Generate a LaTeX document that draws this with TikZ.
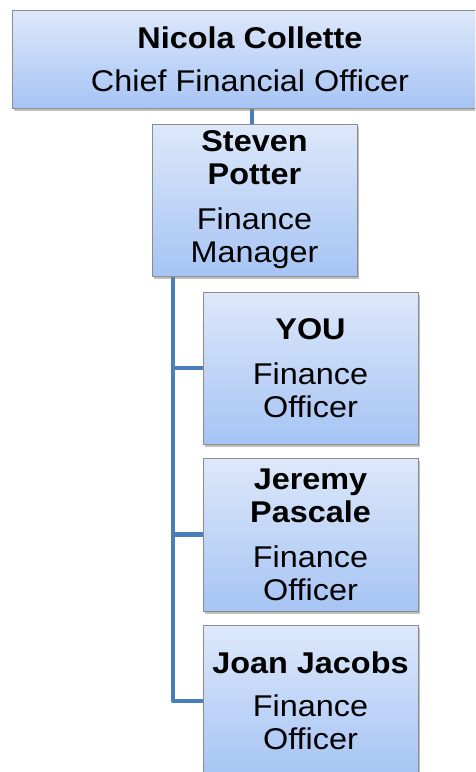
\documentclass[tikz,border=0pt]{standalone}
\usepackage{fontspec}
\setmainfont{Liberation Sans}[FakeStretch=1.08]
\usetikzlibrary{shadows,backgrounds}

\definecolor{linkblue}{HTML}{4A7EBB}
\definecolor{boxtop}{HTML}{DDE8FA}
\definecolor{boxbot}{HTML}{A6C4F4}

\begin{document}
\begin{tikzpicture}[x=1pt,y=1pt,
	person/.style={draw=gray!90,line width=1pt,top color=boxtop,bottom color=boxbot,
		drop shadow={opacity=.5,shadow xshift=1.5pt,shadow yshift=-3pt},
		align=center,inner sep=2pt,font=\fontsize{30}{33}\selectfont},
	link/.style={draw=linkblue,line width=4.5pt}]
	\useasboundingbox (0,0) rectangle (475,-772);
	\clip (0,0) rectangle (475,-772);
	
	% boxes, top to bottom
	\node[person,minimum width=476,minimum height=98] (cfo) at (250,-59)
		{\textbf{Nicola Collette}\\[10pt] Chief Financial Officer};
	\node[person,minimum width=205,minimum height=152] (mgr) at (254.5,-200)
		{\textbf{Steven}\\ \textbf{Potter}\\[12pt] Finance\\ Manager};
	\node[person,minimum width=215,minimum height=152] (you) at (310.5,-368)
		{\textbf{YOU}\\[12pt] Finance\\ Officer};
	\node[person,minimum width=215,minimum height=153] (jeremy) at (310.5,-534.5)
		{\textbf{Jeremy}\\ \textbf{Pascale}\\[12pt] Finance\\ Officer};
	\node[person,minimum width=215,minimum height=152] (joan) at (310.5,-701)
		{\textbf{Joan Jacobs}\\[10pt] Finance\\ Officer};
	
	% reporting lines
	\coordinate (drop) at (252,-108);
	\coordinate (trunk) at (173,-276);
	\begin{scope}[on background layer]
		\draw[link] (drop) -- (drop |- mgr.north);
		\draw[link] (trunk) |- (you.west);
		\draw[link] (trunk) |- (jeremy.west);
		\draw[link,line join=round] (trunk) |- (joan.west);
	\end{scope}
\end{tikzpicture}
\end{document}
